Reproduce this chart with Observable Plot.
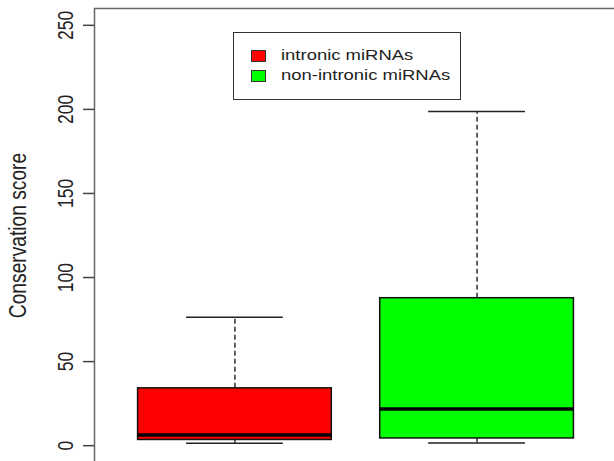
<!DOCTYPE html>
<html>
<head>
<meta charset="utf-8">
<script src="https://cdn.jsdelivr.net/npm/d3@7"></script>
<script src="https://cdn.jsdelivr.net/npm/@observablehq/plot@0.6"></script>
<style>
  html, body { margin: 0; padding: 0; background: white; }
  #wrap { position: relative; width: 614px; height: 461px; overflow: hidden; font-family: "Liberation Sans", Arial, sans-serif; }
  #legend { position: absolute; left: 233px; top: 32px; width: 228px; height: 68px; border: 1px solid #333; background: white; box-sizing: border-box; }
  .item { position: absolute; left: 0; width: 100%; height: 14px; }
  .sw { position: absolute; left: 17px; top: 0; width: 15px; height: 12px; border: 1px solid #333; box-sizing: border-box; }
  .lab { position: absolute; left: 47px; top: -4px; font-size: 15px; line-height: 18px; color: #222; white-space: nowrap; transform: scaleX(1.23); transform-origin: left center; }
</style>
</head>
<body>
<div id="wrap"></div>
<script>
const categories = ["intronic miRNAs", "non-intronic miRNAs"];
const colors = ["#FF0000", "#00FF00"];
const whiskerLow = [1.4, 1.6];
const q1 = [3.4, 4.3];
const median = [6.3, 21.8];
const q3 = [34.1, 87.7];
const whiskerHigh = [76.4, 198.8];
const yTicks = [0, 50, 100, 150, 200, 250];
const yLabel = "Conservation score";

const data = categories.map((c, i) => ({
  cat: c, pos: i + 1, fill: colors[i],
  lo: whiskerLow[i], q1: q1[i], med: median[i], q3: q3[i], hi: whiskerHigh[i]
}));

const line = "#222";
const chart = Plot.plot({
  width: 614, height: 461,
  marginLeft: 94, marginTop: 8, marginRight: -3, marginBottom: -1,
  x: {domain: [0.42, 2.58], axis: null},
  y: {domain: [-10, 260], axis: null},
  style: {fontFamily: "'Liberation Sans', Arial, sans-serif", background: "white"},
  marks: [
    Plot.frame({stroke: "#666", strokeWidth: 1.5}),
    Plot.axisY(yTicks, {anchor: "left", tickSize: 11, tickFormat: () => "", label: null, stroke: "#444", strokeWidth: 1.5}),
    Plot.text(yTicks, {y: d => d, text: d => String(d), frameAnchor: "left", dx: -22, rotate: -90,
      textAnchor: "middle", lineAnchor: "bottom", fontSize: 17.5, fill: "#222", className: "stretch"}),
    Plot.text([yLabel], {text: d => d, frameAnchor: "left", dx: -69, rotate: -90,
      textAnchor: "middle", lineAnchor: "bottom", fontSize: 19.2, fill: "#222", className: "stretch"}),
    Plot.ruleX(data, {x: "pos", y1: "q3", y2: "hi", stroke: line, strokeWidth: 1.4, strokeDasharray: "5,3"}),
    Plot.ruleX(data, {x: "pos", y1: "lo", y2: "q1", stroke: line, strokeWidth: 1.4, strokeDasharray: "5,3"}),
    Plot.ruleY(data, {y: "hi", x1: d => d.pos - 0.2, x2: d => d.pos + 0.2, stroke: line, strokeWidth: 1.5}),
    Plot.ruleY(data, {y: "lo", x1: d => d.pos - 0.2, x2: d => d.pos + 0.2, stroke: line, strokeWidth: 1.5}),
    Plot.rect(data, {x1: d => d.pos - 0.4, x2: d => d.pos + 0.4, y1: "q1", y2: "q3", fill: "fill", stroke: "#111", strokeWidth: 1.5}),
    Plot.ruleY(data, {y: "med", x1: d => d.pos - 0.4, x2: d => d.pos + 0.4, stroke: "black", strokeWidth: 3.5})
  ]
});
// widen glyphs horizontally (the reference image is stretched horizontally)
d3.select(chart).selectAll("g.stretch text").each(function() {
  const t = this.getAttribute("transform");
  if (t) this.setAttribute("transform", t + " scale(1,1.22)");
});
const wrap = document.getElementById("wrap");
wrap.appendChild(chart);

const legend = document.createElement("div");
legend.id = "legend";
categories.forEach((c, i) => {
  const item = document.createElement("div");
  item.className = "item";
  item.style.top = (17 + i * 20) + "px";
  const sw = document.createElement("div");
  sw.className = "sw";
  sw.style.background = colors[i];
  const lab = document.createElement("div");
  lab.className = "lab";
  lab.textContent = c;
  item.appendChild(sw);
  item.appendChild(lab);
  legend.appendChild(item);
});
wrap.appendChild(legend);
</script>
</body>
</html>
